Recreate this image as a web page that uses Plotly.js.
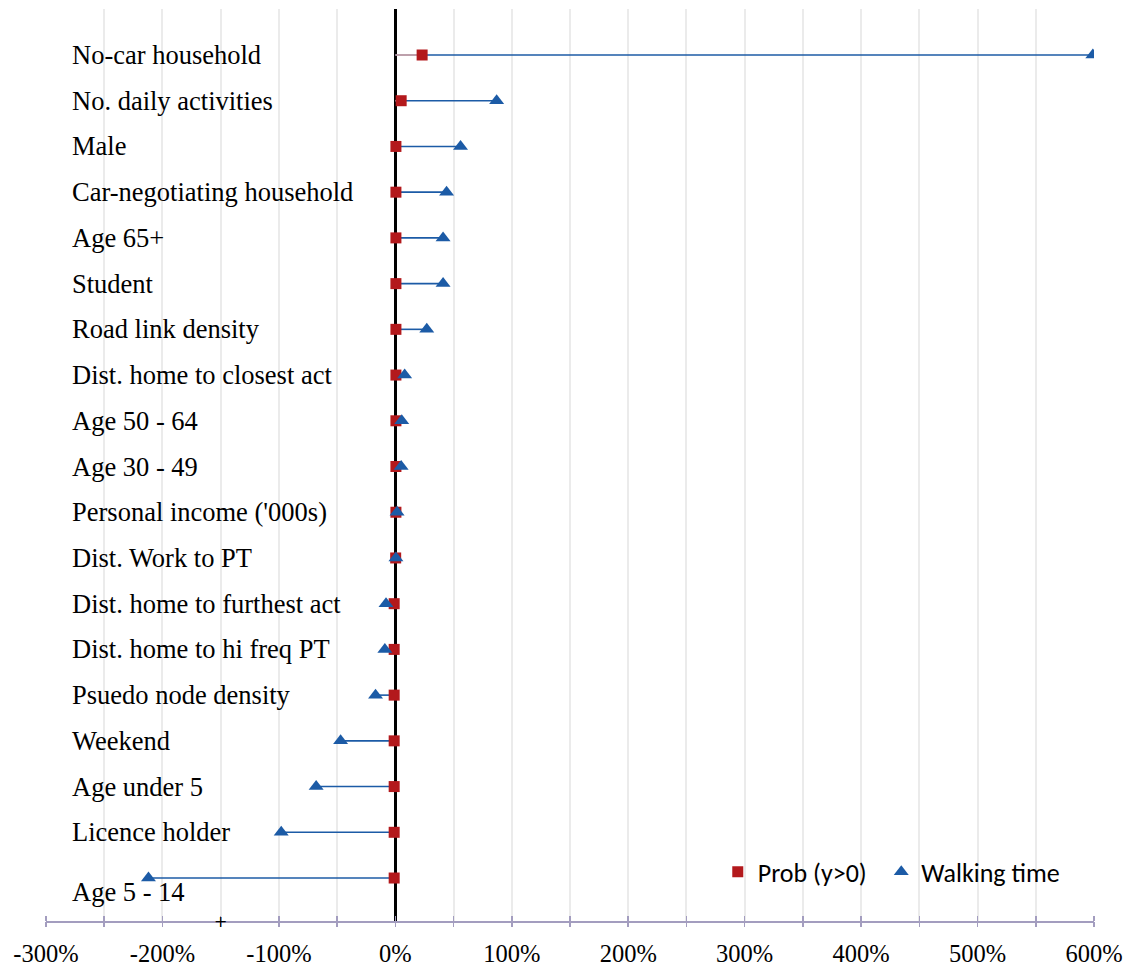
<!DOCTYPE html>
<html>
<head>
<meta charset="utf-8">
<script src="https://cdn.plot.ly/plotly-3.0.1.min.js"></script>
<style>
  html, body { margin: 0; padding: 0; background: #ffffff; }
  #chart { width: 1124px; height: 970px; }
</style>
</head>
<body>
<div id="chart"></div>
<script>
// Categories, top to bottom
const labels = [
  "No-car household",
  "No. daily activities",
  "Male",
  "Car-negotiating household",
  "Age 65+",
  "Student",
  "Road link density",
  "Dist. home to closest act",
  "Age 50 - 64",
  "Age 30 - 49",
  "Personal income ('000s)",
  "Dist. Work to PT",
  "Dist. home to furthest act",
  "Dist. home to hi freq PT",
  "Psuedo node density",
  "Weekend",
  "Age under 5",
  "Licence holder",
  "Age 5 - 14"
];
// Prob (y>0) effect, %
const probValues = [23, 5, 0.5, 0.5, 0.5, 0.5, 0.5, 0.5, 0.5, 0.5, 0.5, 0.3, -1, -1, -1, -1, -1, -1, -1];
// Walking time effect, %
const walkValues = [599, 87, 56, 44, 41, 41, 27, 8, 5.5, 5, 1.5, 0.5, -8, -9, -17, -47, -68, -98, -212];
const xTickVals = [-300, -200, -100, 0, 100, 200, 300, 400, 500, 600];
const xTickText = ["-300%", "-200%", "-100%", "0%", "100%", "200%", "300%", "400%", "500%", "600%"];

const red = "#b3191c";
const blue = "#1c5ba6";
const serif = "'Liberation Serif', 'Times New Roman', serif";
const legendFont = { family: "Carlito, Lato, Calibri, sans-serif", size: 26, color: "#000" };

// connector lines built from the data
const walkLineX = [], walkLineY = [], probLineX = [], probLineY = [];
labels.forEach((lab, i) => {
  walkLineX.push(0, walkValues[i], null); walkLineY.push(lab, lab, null);
  probLineX.push(0, probValues[i], null); probLineY.push(lab, lab, null);
});

const traces = [
  { type: "scatter", mode: "lines", x: walkLineX, y: walkLineY,
    line: { color: blue, width: 1.6 }, showlegend: false, hoverinfo: "skip" },
  { type: "scatter", mode: "lines", x: probLineX, y: probLineY,
    line: { color: "#d8a7a7", width: 1.6 }, showlegend: false, hoverinfo: "skip" },
  { type: "scatter", mode: "markers", name: "Prob (y>0)", x: probValues, y: labels,
    legend: "legend",
    marker: { symbol: "square", color: red, size: 11, line: { width: 0 } } },
  { type: "scatter", mode: "markers", name: "Walking time", x: walkValues, y: labels,
    legend: "legend2",
    marker: { symbol: "triangle-up", color: blue, size: 13, line: { width: 0 } } },
  // invisible trace to host the overlay axis that draws gridlines and the cross ticks
  { type: "scatter", mode: "markers", x: [0], y: [labels[0]], xaxis: "x2",
    marker: { opacity: 0 }, showlegend: false, hoverinfo: "skip" }
];

const annotations = labels.map((lab, i) => ({
  x: -279, y: lab, xref: "x", yref: "y", text: lab, showarrow: false,
  xanchor: "left", yanchor: "middle", yshift: (i === labels.length - 1) ? -14 : 0,
  font: { family: serif, size: 26.5, color: "#000000" }
}));
annotations.push({
  x: -150, y: 0, xref: "x", yref: "paper", text: "+", showarrow: false,
  xanchor: "center", yanchor: "middle", font: { family: "DejaVu Sans", size: 16, color: "#000" }
});

const axisColor = "#a39dbf";
const layout = {
  width: 1124, height: 970,
  margin: { l: 46, r: 30, t: 9, b: 49 },
  paper_bgcolor: "#ffffff", plot_bgcolor: "#ffffff",
  font: { family: serif, size: 24, color: "#000000" },
  showlegend: true,
  legend: {
    orientation: "h", x: 0.641, xanchor: "left", y: 0.054, yanchor: "middle",
    font: legendFont, bgcolor: "rgba(0,0,0,0)", itemwidth: 30
  },
  legend2: {
    orientation: "h", x: 0.797, xanchor: "left", y: 0.054, yanchor: "middle",
    font: legendFont, bgcolor: "rgba(0,0,0,0)", itemwidth: 30
  },
  xaxis: {
    range: [-300, 600], tickmode: "array", tickvals: xTickVals, ticktext: xTickText,
    showgrid: false, zeroline: true, zerolinecolor: "#000000", zerolinewidth: 3,
    showline: true, linecolor: axisColor, linewidth: 2,
    ticks: "", ticklabelstandoff: 10,
    tickfont: { family: serif, size: 24.5, color: "#000" },
    fixedrange: true
  },
  xaxis2: {
    overlaying: "x", matches: "x", anchor: "y", side: "bottom",
    range: [-300, 600], dtick: 50, tick0: 0,
    showgrid: true, gridcolor: "#ebebeb", gridwidth: 2,
    zeroline: false, showline: false, showticklabels: false,
    ticks: "outside", ticklen: 5, tickwidth: 1.5, tickcolor: axisColor,
    minor: { ticks: "inside", dtick: 50, tick0: 0, ticklen: 5, tickwidth: 1.5, tickcolor: axisColor, showgrid: false }
  },
  yaxis: {
    type: "category", categoryorder: "array", categoryarray: labels.slice().reverse(),
    range: [-0.94, 19.006], showticklabels: false, showgrid: false, zeroline: false,
    showline: false, ticks: "", fixedrange: true
  },
  annotations: annotations
};

Plotly.newPlot("chart", traces, layout, { displayModeBar: false, staticPlot: true });
</script>
</body>
</html>
